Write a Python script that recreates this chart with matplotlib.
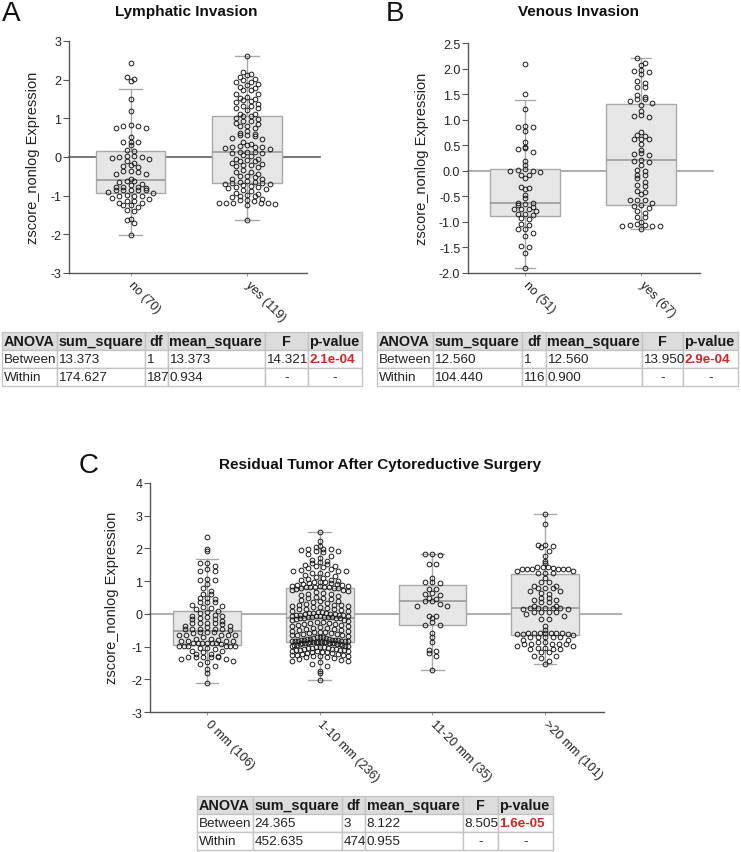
import matplotlib
matplotlib.use("Agg")
import matplotlib.pyplot as plt
import numpy as np
from matplotlib.patches import Rectangle

plt.rcParams['font.family'] = ['Liberation Sans', 'DejaVu Sans']

# ---------------- data ----------------
A_labels = ["no (70)", "yes (119)"]
A_no = [2.44, 2.07, 2.02, 1.97, 1.50, 1.18, 0.82, 0.80, 0.80, 0.76, 0.74, 0.53, 0.40, 0.38, 0.38,
        0.32, 0.19, 0.15, 0.03, 0.02, 0.0, 0.0, -0.03, -0.05, -0.10, -0.16, -0.20, -0.22, -0.25,
        -0.35, -0.37, -0.40, -0.44, -0.44, -0.58, -0.61, -0.63, -0.65, -0.70, -0.72, -0.78, -0.78,
        -0.78, -0.80, -0.85, -0.85, -0.85, -0.85, -0.85, -0.90, -0.92, -0.97, -1.00, -1.00, -1.00,
        -1.05, -1.08, -1.13, -1.13, -1.19, -1.19, -1.24, -1.24, -1.30, -1.38, -1.40, -1.60, -1.62,
        -1.70, -2.02]
A_yes = [2.60, 2.21, 2.15, 2.13, 2.08, 2.01, 2.00, 1.95, 1.93, 1.88, 1.86, 1.80, 1.78, 1.74, 1.72,
         1.63, 1.62, 1.55, 1.52, 1.50, 1.47, 1.45, 1.41, 1.37, 1.33, 1.31, 1.28, 1.26, 1.22, 1.11,
         1.11, 1.06, 1.05, 1.02, 0.97, 0.94, 0.94, 0.88, 0.85, 0.81, 0.81, 0.75, 0.68, 0.62, 0.60,
         0.57, 0.57, 0.55, 0.50, 0.46, 0.40, 0.33, 0.30, 0.28, 0.26, 0.25, 0.25, 0.24, 0.20, 0.14,
         0.14, 0.12, 0.10, 0.10, 0.05, 0.02, -0.05, -0.05, -0.08, -0.10, -0.10, -0.16, -0.18, -0.20,
         -0.20, -0.22, -0.27, -0.34, -0.40, -0.40, -0.44, -0.48, -0.48, -0.53, -0.57, -0.57, -0.62,
         -0.64, -0.64, -0.66, -0.68, -0.70, -0.70, -0.72, -0.74, -0.78, -0.78, -0.80, -0.83, -0.86,
         -0.89, -0.92, -0.95, -0.98, -1.00, -1.02, -1.04, -1.08, -1.10, -1.12, -1.15, -1.19, -1.19,
         -1.19, -1.19, -1.19, -1.22, -1.24, -1.63]
A_q1 = [-0.93, -0.67]
A_med = [-0.59, 0.12]
A_q3 = [0.15, 1.07]
A_lo = [-2.03, -1.63]
A_hi = [1.77, 2.60]

B_labels = ["no (51)", "yes (67)"]
B_no = [2.09, 1.50, 1.20, 0.87, 0.85, 0.85, 0.78, 0.57, 0.47, 0.44, 0.42, 0.36, 0.20, 0.11, 0.04,
        0.02, 0.00, 0.00, -0.02, -0.08, -0.09, -0.15, -0.31, -0.34, -0.36, -0.48, -0.54, -0.63,
        -0.63, -0.65, -0.67, -0.70, -0.75, -0.75, -0.75, -0.79, -0.84, -0.85, -0.87, -0.93, -0.95,
        -1.05, -1.06, -1.13, -1.13, -1.22, -1.28, -1.47, -1.49, -1.60, -1.90]
B_yes = [2.20, 2.11, 2.07, 1.98, 1.95, 1.93, 1.89, 1.75, 1.72, 1.64, 1.64, 1.49, 1.45, 1.41, 1.40,
         1.36, 1.33, 1.28, 1.17, 1.09, 1.07, 1.05, 0.76, 0.70, 0.68, 0.63, 0.63, 0.62, 0.52, 0.40,
         0.34, 0.32, 0.30, 0.21, 0.20, 0.17, 0.12, 0.02, 0.00, -0.08, -0.08, -0.15, -0.22, -0.28,
         -0.30, -0.40, -0.42, -0.46, -0.57, -0.57, -0.57, -0.63, -0.67, -0.69, -0.72, -0.79, -0.83,
         -0.90, -0.90, -1.00, -1.05, -1.06, -1.07, -1.08, -1.09, -1.09, -1.13]
B_q1 = [-0.88, -0.67]
B_med = [-0.64, 0.21]
B_q3 = [0.03, 1.30]
B_lo = [-1.90, -1.13]
B_hi = [1.38, 2.20]

C_labels = ["0 mm (106)", "1-10 mm (236)", "11-20 mm (35)", ">20 mm (101)"]
C_0 = [2.35, 1.98, 1.91, 1.56, 1.54, 1.47, 1.37, 1.30, 1.30, 1.06, 1.03, 1.03, 0.91, 0.80, 0.70,
       0.62, 0.60, 0.50, 0.50, 0.45, 0.37, 0.35, 0.35, 0.28, 0.24, 0.22, 0.19, 0.14, 0.10, 0.05,
       0.02, -0.02, -0.06, -0.06, -0.10, -0.12, -0.16, -0.16, -0.21, -0.27, -0.27, -0.27, -0.27,
       -0.32, -0.37, -0.37, -0.40, -0.45, -0.45, -0.45, -0.45, -0.45, -0.50, -0.55, -0.55, -0.55,
       -0.60, -0.64, -0.64, -0.64, -0.64, -0.64, -0.72, -0.76, -0.76, -0.80, -0.83, -0.83, -0.83,
       -0.83, -0.88, -0.88, -0.88, -0.88, -0.88, -0.88, -0.93, -0.98, -0.98, -0.98, -0.98, -0.98,
       -0.98, -1.03, -1.03, -1.08, -1.13, -1.13, -1.18, -1.23, -1.23, -1.28, -1.32, -1.32, -1.32,
       -1.32, -1.32, -1.39, -1.39, -1.43, -1.46, -1.52, -1.60, -1.69, -1.80, -2.10]
C_1 = [2.49, 2.22, 2.07, 2.03, 1.99, 1.98, 1.97, 1.95, 1.93, 1.91, 1.88, 1.82, 1.78, 1.72, 1.65,
       1.62, 1.58, 1.55, 1.52, 1.50, 1.47, 1.45, 1.42, 1.40, 1.38, 1.35, 1.32, 1.30, 1.30, 1.25,
       1.24, 1.22, 1.18, 1.15, 1.12, 1.10, 1.08, 1.05, 1.02, 1.00, 0.98, 0.97, 0.97, 0.95, 0.93,
       0.92, 0.90, 0.88, 0.87, 0.86, 0.85, 0.84, 0.83, 0.82, 0.82, 0.81, 0.81, 0.80, 0.80,
       0.78, 0.75, 0.74, 0.74, 0.70, 0.68, 0.65, 0.62, 0.60, 0.58, 0.55, 0.52, 0.50, 0.48, 0.45,
       0.42, 0.40, 0.38, 0.35, 0.32, 0.30, 0.28, 0.27, 0.26, 0.25, 0.24, 0.22, 0.20, 0.18, 0.16,
       0.15, 0.14, 0.12, 0.10, 0.08, 0.06, 0.05, 0.04, 0.03, 0.02, 0.01, 0.00, -0.01, -0.02, -0.03,
       -0.04, -0.05, -0.06, -0.07, -0.08, -0.08, -0.09, -0.10, -0.10, -0.11, -0.11, -0.12, -0.12,
       -0.13, -0.14, -0.16, -0.18, -0.20, -0.22, -0.24, -0.25, -0.27, -0.28, -0.30, -0.32, -0.34,
       -0.35, -0.37, -0.38, -0.40, -0.42, -0.44, -0.45, -0.47, -0.48, -0.50, -0.51, -0.52, -0.54,
       -0.55, -0.56, -0.58, -0.60, -0.61, -0.62, -0.64, -0.65, -0.66, -0.68, -0.70, -0.71, -0.72,
       -0.74, -0.75, -0.76, -0.77, -0.78, -0.79, -0.80, -0.80, -0.81, -0.81, -0.82, -0.82, -0.83,
       -0.83, -0.84, -0.84, -0.85, -0.85, -0.85, -0.86, -0.86, -0.87, -0.87, -0.88, -0.88, -0.89,
       -0.89, -0.90, -0.90, -0.91, -0.92, -0.93, -0.94, -0.95, -0.96, -0.97, -0.98, -0.99, -1.00,
       -1.01, -1.02, -1.03, -1.04, -1.05, -1.06, -1.07, -1.08, -1.09, -1.10, -1.11, -1.12, -1.13,
       -1.14, -1.15, -1.16, -1.17, -1.18, -1.19, -1.20, -1.22, -1.24, -1.25, -1.26, -1.27, -1.28,
       -1.30, -1.30, -1.32, -1.33, -1.35, -1.38, -1.40, -1.43, -1.45, -1.48, -1.52, -1.58, -1.75,
       -1.80, -2.02]
C_2 = [1.84, 1.83, 1.80, 1.52, 1.52, 1.09, 0.98, 0.96, 0.94, 0.76, 0.76, 0.63, 0.62, 0.58, 0.47,
       0.46, 0.38, 0.38, 0.30, 0.25, 0.24, -0.06, -0.06, -0.14, -0.24, -0.33, -0.33, -0.58, -0.72,
       -0.85, -1.12, -1.14, -1.20, -1.29, -1.71]
C_3 = [3.06, 2.74, 2.12, 2.10, 2.08, 2.03, 1.93, 1.78, 1.62, 1.54, 1.42, 1.42, 1.42, 1.41, 1.37,
       1.37, 1.37, 1.37, 1.36, 1.36, 1.32, 1.32, 1.24, 1.24, 1.24, 1.11, 0.98, 0.98, 0.86, 0.85,
       0.79, 0.79, 0.79, 0.70, 0.70, 0.65, 0.60, 0.47, 0.47, 0.43, 0.43, 0.37, 0.37, 0.25, 0.25,
       0.19, 0.19, 0.19, 0.19, 0.19, 0.14, 0.14, 0.06, 0.06, 0.06, 0.06, 0.01, -0.06, -0.16, -0.16,
       -0.37, -0.50, -0.57, -0.57, -0.57, -0.57, -0.57, -0.57, -0.57, -0.62, -0.62, -0.62, -0.66,
       -0.72, -0.72, -0.72, -0.72, -0.72, -0.80, -0.80, -0.86, -0.86, -0.93, -0.93, -0.93, -0.93,
       -0.93, -0.98, -0.98, -1.03, -1.03, -1.08, -1.08, -1.08, -1.16, -1.16, -1.29, -1.29, -1.34,
       -1.44, -1.52]
C_q1 = [-0.95, -0.86, -0.34, -0.64]
C_med = [-0.53, -0.13, 0.39, 0.19]
C_q3 = [0.10, 0.79, 0.89, 1.22]
C_lo = [-2.10, -2.02, -1.71, -1.52]
C_hi = [1.67, 2.49, 1.83, 3.06]

tab_header = ["ANOVA", "sum_square", "df", "mean_square", "F", "p-value"]
A_table = [["Between", "13.373", "1", "13.373", "14.321", "2.1e-04"],
           ["Within", "174.627", "187", "0.934", "-", "-"]]
B_table = [["Between", "12.560", "1", "12.560", "13.950", "2.9e-04"],
           ["Within", "104.440", "116", "0.900", "-", "-"]]
C_table = [["Between", "24.365", "3", "8.122", "8.505", "1.6e-05"],
           ["Within", "452.635", "474", "0.955", "-", "-"]]

# ---------------- layout helpers ----------------
W, H = 741, 853
fig = plt.figure(figsize=(W / 100, H / 100), dpi=100)
ov = fig.add_axes([0, 0, 1, 1], zorder=5)
ov.set_xlim(0, W)
ov.set_ylim(H, 0)
ov.axis('off')
ov.patch.set_alpha(0)


def ax_px(l, t, r, b):
    return fig.add_axes([l / W, 1 - b / H, (r - l) / W, (b - t) / H])


def binned_offsets(vals, ypx, h=5.0, s=7.5, maxhalf=28.0):
    """Horizontal pixel offsets: points in the same y-bin are spread symmetrically."""
    vals = np.asarray(vals, float)
    bins = np.round(vals * ypx / h).astype(int)
    offs = np.zeros(len(vals))
    for bval in np.unique(bins):
        idx = np.where(bins == bval)[0]
        idx = idx[np.argsort(-vals[idx], kind='stable')]
        n = len(idx)
        step = s if n <= 1 else min(s, 2 * maxhalf / (n - 1))
        slots = (np.arange(n) - (n - 1) / 2) * step
        order = np.argsort(np.abs(slots) + 1e-3 * np.arange(n), kind='stable')
        for k, j in enumerate(idx):
            offs[j] = slots[order[k]]
    return offs


def panel(rect, groups, labels, q1, med, q3, lo, hi, ylim, yticks, yfmt,
          spacing_px, first_px, capw, zero_end, zero_color, zero_lw):
    l, t, r, b = rect
    ax = ax_px(l, t, r, b)
    pos = np.arange(len(groups))
    xl = -(first_px - l) / spacing_px
    xr = (len(groups) - 1) + (r - (first_px + spacing_px * (len(groups) - 1))) / spacing_px
    ax.set_xlim(xl, xr)
    ax.set_ylim(*ylim)
    ax.plot([xl, zero_end], [0, 0], color=zero_color, lw=zero_lw, zorder=1, clip_on=False)
    stats = [dict(q1=a, med=m, q3=c, whislo=w1, whishi=w2, label='')
             for a, m, c, w1, w2 in zip(q1, med, q3, lo, hi)]
    ax.bxp(stats, positions=pos, widths=0.6, showfliers=False, patch_artist=True,
           capwidths=capw, manage_ticks=False,
           boxprops=dict(facecolor='#e6e6e6', edgecolor='#a9a9a9', lw=1.0),
           medianprops=dict(color='#9a9a9a', lw=1.2),
           whiskerprops=dict(color='#a9a9a9', lw=1.0),
           capprops=dict(color='#a9a9a9', lw=1.0), zorder=2)
    ypx = (b - t) / (ylim[1] - ylim[0])
    for p, g in zip(pos, groups):
        off = binned_offsets(g, ypx)
        ax.plot(p + off / spacing_px, g, 'o', ms=3.4, mfc='none', mec='#1a1a1a',
                mew=0.7, zorder=3, clip_on=False)
    for s in ['top', 'right']:
        ax.spines[s].set_visible(False)
    for s in ['left', 'bottom']:
        ax.spines[s].set_color('#555555')
        ax.spines[s].set_linewidth(1.0)
    ax.set_yticks(yticks)
    ax.set_yticklabels([yfmt.format(v) for v in yticks], fontsize=9, color='#222222')
    ax.set_xticks(pos)
    ax.set_xticklabels(labels, rotation=-45, ha='left', va='center',
                       rotation_mode='anchor', fontsize=9, color='#222222')
    ax.tick_params(axis='y', length=4, width=0.8, color='#555555', pad=1.5)
    ax.tick_params(axis='x', length=2, width=0.6, color='#888888', pad=5)
    ax.patch.set_alpha(0)
    return ax


# Panel A
panel((69, 42, 307, 274), [A_no, A_yes], A_labels, A_q1, A_med, A_q3, A_lo, A_hi,
      (-3, 3), [-3, -2, -1, 0, 1, 2, 3], "{:d}", 116.5, 130.5, 0.2, 1.63, '#6e6e6e', 1.3)
# Panel B
panel((468, 44, 700, 274), [B_no, B_yes], B_labels, B_q1, B_med, B_q3, B_lo, B_hi,
      (-2.0, 2.5), [-2.0, -1.5, -1.0, -0.5, 0.0, 0.5, 1.0, 1.5, 2.0, 2.5], "{:.1f}",
      116, 525, 0.17, 1.62, '#a0a0a0', 1.2)
# Panel C
panel((150, 484, 604, 713), [C_0, C_1, C_2, C_3], C_labels, C_q1, C_med, C_q3, C_lo, C_hi,
      (-3, 4), [-3, -2, -1, 0, 1, 2, 3, 4], "{:d}", 112.7, 207, 0.2, 3.67, '#b0b0b0', 1.5)

# titles, letters, y labels
for x, y, s in [(186, 12, "Lymphatic Invasion"), (579, 12, "Venous Invasion"),
                (380, 465, "Residual Tumor After Cytoreductive Surgery")]:
    ov.text(x, y, s, ha='center', va='center', fontsize=11, fontweight='bold', color='#111111')
for x, y, s in [(2, 14, "A"), (386, 14, "B"), (79, 466, "C")]:
    ov.text(x, y, s, ha='left', va='center', fontsize=20, color='#111111')
for x, y in [(33, 158), (422, 159), (112, 598)]:
    ov.text(x, y, "zscore_nonlog Expression", rotation=90, ha='center', va='center',
            fontsize=10.5, color='#222222')


def table(xs, ys, rows):
    allrows = [tab_header] + rows
    for ri, row in enumerate(allrows):
        y0, y1 = ys[ri], ys[ri + 1]
        for ci, txt in enumerate(row):
            x0, x1 = xs[ci], xs[ci + 1]
            fc = '#dcdcdc' if ri == 0 else 'white'
            ov.add_patch(Rectangle((x0, y0), x1 - x0, y1 - y0, facecolor=fc,
                                   edgecolor='#c4c4c4', lw=1.0))
            if ri == 0:
                center = ci in (2, 4)
                kw = dict(fontsize=10.4, fontweight='bold', color='#1a1a1a')
            else:
                center = txt == '-'
                kw = dict(fontsize=9.7, color='#222222')
                if ci == 5 and txt != '-':
                    kw = dict(fontsize=9.7, fontweight='bold', color='#d42525')
            if center:
                ov.text((x0 + x1) / 2, (y0 + y1) / 2 + 0.5, txt, ha='center', va='center', **kw)
            else:
                ov.text(x0 + 1.5, (y0 + y1) / 2 + 0.5, txt, ha='left', va='center', **kw)


table([2, 57, 145, 168, 265, 308, 362], [333, 350.5, 368.5, 386.5], A_table)
table([377, 433, 522, 546, 642, 683, 738], [333, 350.5, 368.5, 386.5], B_table)
table([197, 253, 342, 365, 463, 498, 553], [797, 815, 833, 851], C_table)

fig.savefig("out.png", dpi=100, facecolor='white')
